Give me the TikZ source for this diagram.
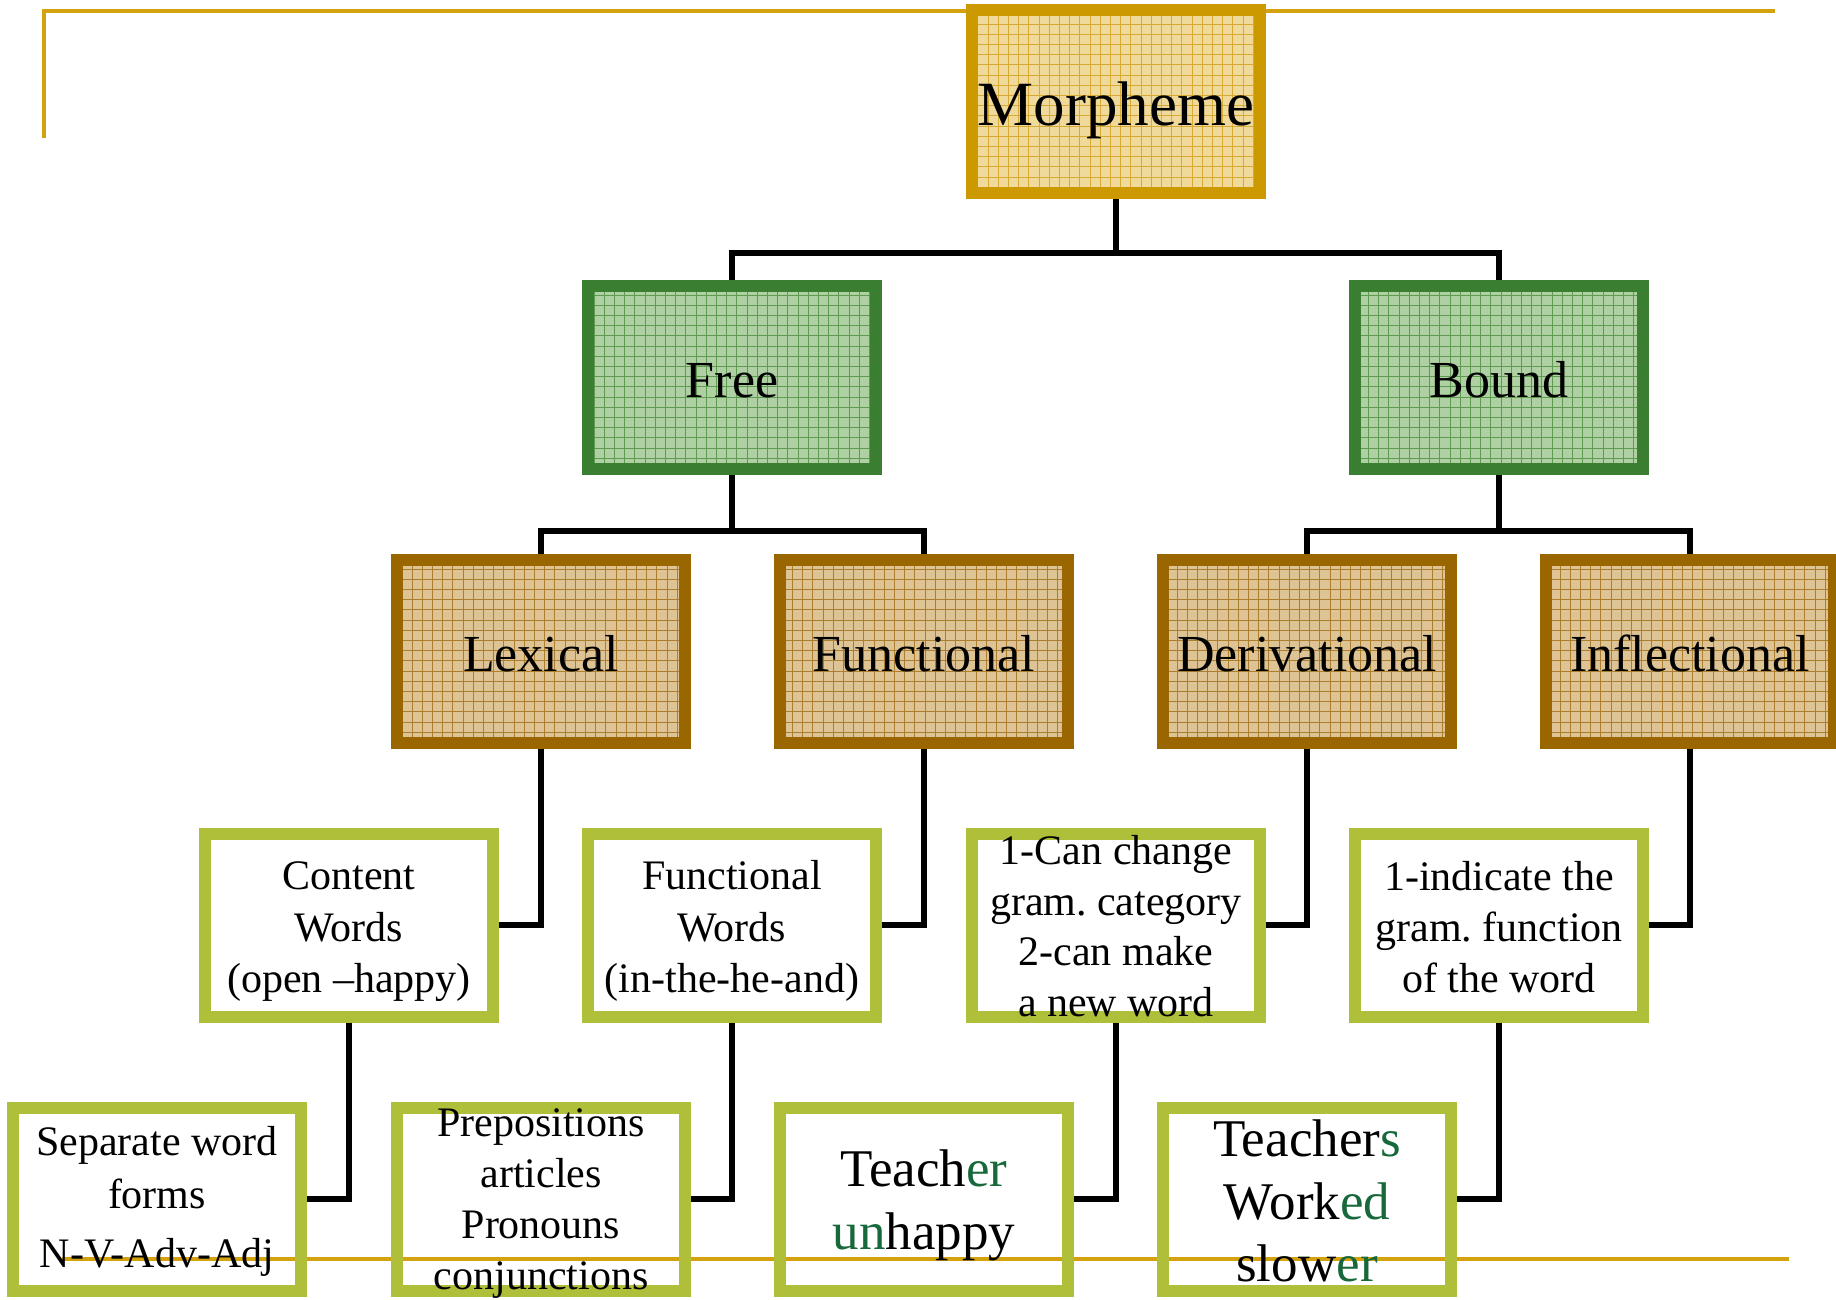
\documentclass[tikz,border=0pt]{standalone}
\usepackage{fontspec}
\setmainfont{Liberation Serif}
\frenchspacing
\definecolor{decoline}{HTML}{D4A20F}
\definecolor{goldB}{HTML}{CC9900}
\definecolor{goldF}{HTML}{EFDA9C}
\definecolor{goldG}{HTML}{D6AA34}
\definecolor{greenB}{HTML}{3A7F31}
\definecolor{greenF}{HTML}{AED0A2}
\definecolor{greenG}{HTML}{5E9A50}
\definecolor{brownB}{HTML}{996600}
\definecolor{brownF}{HTML}{DEC494}
\definecolor{brownG}{HTML}{AB7E30}
\definecolor{limeB}{HTML}{AFBF3A}
\definecolor{tgreen}{HTML}{17683A}
\begin{document}
\begin{tikzpicture}[x=1pt,y=-1pt,
  box/.style={rectangle, minimum width=288pt, minimum height=183pt,
    inner sep=0pt, outer sep=6pt, line width=12pt},
  gridbox/.style n args={3}{box, draw=#1, fill=#2,
    path picture={\draw[line width=0.9pt, #3, step=10.2pt]
      (path picture bounding box.south west) grid (path picture bounding box.north east);}},
  topbox/.style={gridbox={goldB}{goldF}{goldG}, font=\fontsize{63}{70}\selectfont,
    text height=48pt, text depth=0pt},
  midbox/.style={gridbox={greenB}{greenF}{greenG}, font=\fontsize{52}{60}\selectfont,
    text height=40pt, text depth=0pt},
  catbox/.style={gridbox={brownB}{brownF}{brownG}, font=\fontsize{52}{60}\selectfont,
    text height=40pt, text depth=0pt},
  leafbox/.style={box, draw=limeB},
  tx/.style={align=center, inner sep=0pt},
  conn/.style={line width=6pt, black, line join=miter},
  deco/.style={line width=4pt, decoline}
]
\useasboundingbox (0,0) rectangle (1836,1300);
\clip (0,0) rectangle (1836,1300);

% decorative slide lines
\coordinate (d1) at (44,138);
\coordinate (d2) at (44,11);
\coordinate (d3) at (1775,11);
\coordinate (d4) at (62,1259);
\coordinate (d5) at (1789,1259);
\draw[deco, line join=miter] (d1) -- (d2) -- (d3);
\draw[deco] (d4) -- (d5);

% boxes
\node[topbox] (mor) at (1116,102) {Morpheme};
\node[midbox] (fre) at (732,377) {Free};
\node[midbox] (bou) at (1499,377) {Bound};
\node[catbox] (lex) at (541,651) {Lexical};
\node[catbox] (fun) at (924,651) {Functional};
\node[catbox] (der) at (1307,651) {Derivational};
\node[catbox] (inf) at (1690,651) {Inflectional};
\node[leafbox] (cw) at (349,925) {};
\node[leafbox] (fw) at (732,925) {};
\node[leafbox] (dd) at (1116,925) {};
\node[leafbox] (id) at (1499,925) {};
\node[leafbox] (sw) at (157,1199) {};
\node[leafbox] (pr) at (541,1199) {};
\node[leafbox] (te) at (924,1199) {};
\node[leafbox] (ts) at (1307,1199) {};

% connectors
\coordinate (j1) at (1116,253);
\coordinate (j2) at (732,531);
\coordinate (j3) at (1499,531);
\draw[conn] (mor.south) -- (j1);
\draw[conn] (fre.north) |- (j1) -| (bou.north);
\draw[conn] (fre.south) -- (j2);
\draw[conn] (lex.north) |- (j2) -| (fun.north);
\draw[conn] (bou.south) -- (j3);
\draw[conn] (der.north) |- (j3) -| (inf.north);
\draw[conn] (lex.south) |- (cw.east);
\draw[conn] (fun.south) |- (fw.east);
\draw[conn] (der.south) |- (dd.east);
\draw[conn] (inf.south) |- (id.east);
\draw[conn] (cw.south) |- (sw.east);
\draw[conn] (fw.south) |- (pr.east);
\draw[conn] (dd.south) |- (te.east);
\draw[conn] (id.south) |- (ts.east);

% texts of the white boxes
\node[tx, font=\fontsize{42}{51.5}\selectfont] (cwt) at (349,932) {Content\\Words\\(open --happy)};
\node[tx, font=\fontsize{42}{51.5}\selectfont] (fwt) at (732,931) {Functional\\Words\\(in-the-he-and)};
\node[tx, font=\fontsize{42}{50.7}\selectfont] (ddt) at (1116,926) {1-Can change\\gram. category\\2-can make\\a new word};
\node[tx, font=\fontsize{42}{51}\selectfont] (idt) at (1499,927) {1-indicate the\\gram. function\\of the word};
\node[tx, font=\fontsize{42}{53}\selectfont] (swt) at (157,1201) {Separate word\\forms\\[6pt]N-V-Adv-Adj};
\node[tx, font=\fontsize{42}{51}\selectfont] (prt) at (541,1204) {Prepositions\\articles\\Pronouns\\conjunctions};
\node[tx, font=\fontsize{53}{63}\selectfont] (tet) at (924,1205) {Teach{\color{tgreen}er}\\{\color{tgreen}un}happy};
\node[tx, font=\fontsize{53}{62.5}\selectfont] (tst) at (1307,1201) {Teacher{\color{tgreen}s}\\Work{\color{tgreen}ed}\\slow{\color{tgreen}er}};
\end{tikzpicture}
\end{document}
